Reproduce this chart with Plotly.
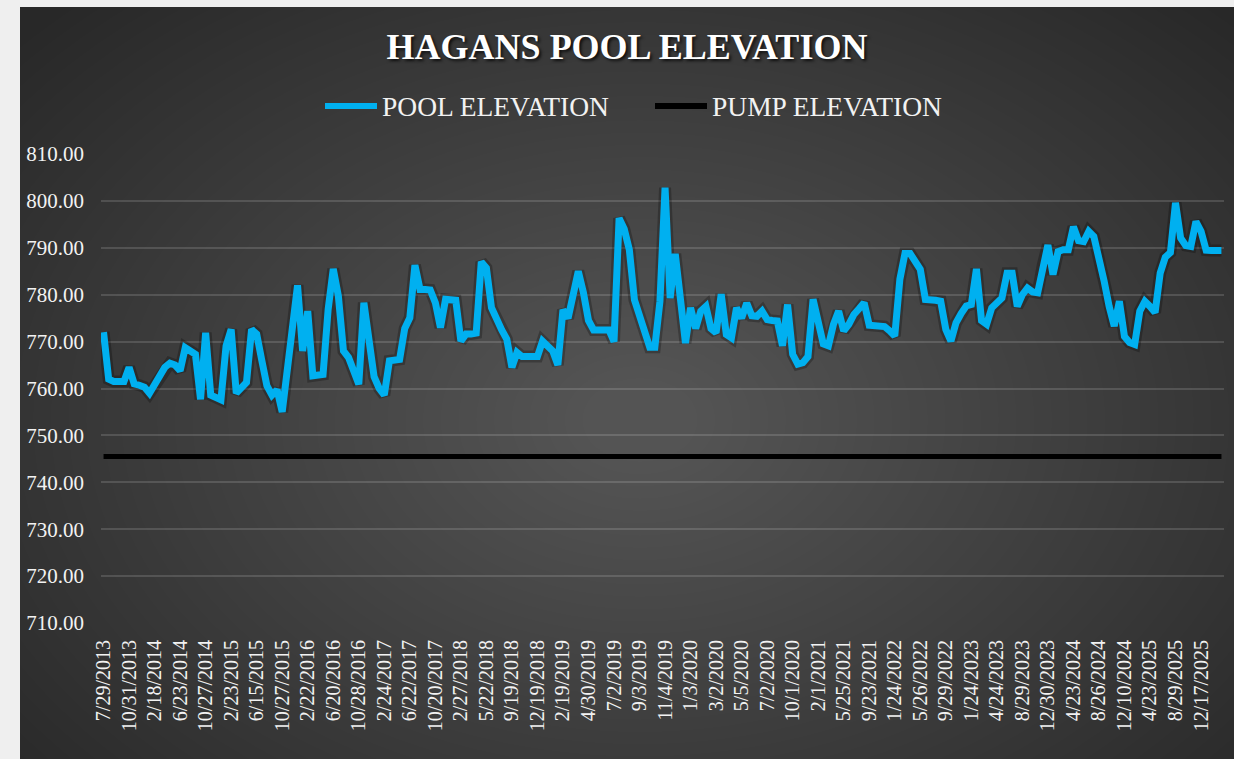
import plotly.graph_objects as go

# Category labels shown on the x axis (every 5th sample)
TICK_LABELS = [
    "7/29/2013", "10/31/2013", "2/18/2014", "6/23/2014", "10/27/2014",
    "2/23/2015", "6/15/2015", "10/27/2015", "2/22/2016", "6/20/2016",
    "10/28/2016", "2/24/2017", "6/22/2017", "10/20/2017", "2/27/2018",
    "5/22/2018", "9/19/2018", "12/19/2018", "2/19/2019", "4/30/2019",
    "7/2/2019", "9/3/2019", "11/4/2019", "1/3/2020", "3/2/2020",
    "5/5/2020", "7/2/2020", "10/1/2020", "2/1/2021", "5/25/2021",
    "9/23/2021", "1/24/2022", "5/26/2022", "9/29/2022", "1/24/2023",
    "4/24/2023", "8/29/2023", "12/30/2023", "4/23/2024", "8/26/2024",
    "12/10/2024", "4/23/2025", "8/29/2025", "12/17/2025",
]
LABEL_EVERY = 5

POOL_ELEVATION = [
    772.0, 762.0, 761.5, 761.5, 761.5, 764.5, 761.0, 760.7, 760.3, 759.0,
    760.9, 762.5, 764.5, 765.4, 765.0, 763.8, 768.7, 768.0, 767.3, 757.7,
    771.9, 758.6, 758.0, 757.6, 769.1, 772.6, 759.0, 760.0, 761.3, 772.6,
    771.6, 766.0, 760.6, 758.6, 759.7, 755.0, 764.0, 774.0, 782.0, 768.0,
    776.5, 762.7, 762.9, 763.0, 776.9, 785.5, 779.7, 768.0, 766.6, 763.5,
    760.9, 778.3, 770.0, 762.5, 760.0, 758.6, 765.9, 765.9, 766.2, 772.8,
    775.1, 786.3, 781.1, 781.1, 781.0, 778.3, 773.0, 779.0, 779.0, 778.8,
    770.1, 771.6, 771.6, 771.8, 787.0, 785.7, 777.2, 774.5, 772.5, 770.5,
    764.5, 767.7, 766.8, 766.8, 766.8, 766.8, 770.1, 769.0, 768.0, 765.0,
    776.8, 775.0, 780.0, 785.0, 780.5, 774.5, 772.5, 772.5, 772.5, 772.5,
    770.0, 796.3, 794.0, 789.6, 778.9, 775.5, 772.0, 768.8, 768.8, 778.6,
    802.8, 779.3, 788.7, 780.0, 769.7, 777.2, 772.8, 776.5, 777.5, 772.8,
    771.9, 780.1, 771.5, 770.8, 777.2, 775.0, 778.2, 775.5, 775.4, 776.5,
    774.7, 774.5, 774.4, 769.1, 777.9, 767.3, 765.2, 765.5, 766.8, 779.0,
    773.3, 769.5, 769.1, 773.7, 776.5, 772.3, 773.7, 775.8, 777.0, 778.3,
    773.5, 773.5, 773.5, 773.2, 772.3, 771.2, 783.3, 788.8, 788.8, 787.0,
    785.4, 779.0, 779.0, 778.8, 778.6, 772.6, 770.1, 774.0, 776.0, 777.6,
    777.9, 785.5, 774.5, 773.7, 777.2, 778.5, 779.3, 784.6, 784.6, 777.5,
    780.0, 781.4, 780.6, 780.4, 786.4, 790.6, 784.3, 789.2, 789.6, 789.6,
    794.5, 791.5, 791.3, 793.5, 792.4, 788.0, 783.0, 777.5, 773.3, 778.6,
    771.1, 769.8, 769.4, 776.5, 778.6, 777.5, 776.2, 784.6, 788.0, 789.0,
    799.6, 792.1, 790.5, 790.3, 795.6, 793.5, 789.5, 789.4, 789.4, 789.4,
]
PUMP_LEVEL = 745.5
PUMP_ELEVATION = [PUMP_LEVEL] * len(POOL_ELEVATION)

POOL_COLOR = "#00B0F0"
FONT = "Liberation Serif, Times New Roman, serif"
TEXT = "#F2F2F2"

W, H = 1234, 759
PLOT_L, PLOT_R, PLOT_T, PLOT_B = 101, 1224, 154, 623  # pixels
M = dict(l=PLOT_L, r=W - PLOT_R, t=PLOT_T, b=H - PLOT_B)
PW = PLOT_R - PLOT_L
PH = PLOT_B - PLOT_T


def fx(px):
    return (px - PLOT_L) / PW


def fy(py):
    return (PLOT_B - py) / PH


x_idx = list(range(len(POOL_ELEVATION)))
tick_idx = x_idx[::LABEL_EVERY][: len(TICK_LABELS)]

fig = go.Figure()
# soft shadow under the pool line
fig.add_trace(go.Scatter(
    x=x_idx, y=POOL_ELEVATION, mode="lines", showlegend=False, hoverinfo="skip",
    line=dict(color="rgba(0,0,0,0.25)", width=12),
))
fig.add_trace(go.Scatter(
    x=x_idx, y=PUMP_ELEVATION, name="PUMP ELEVATION", mode="lines",
    line=dict(color="#000000", width=5),
))
fig.add_trace(go.Scatter(
    x=x_idx, y=POOL_ELEVATION, name="POOL ELEVATION", mode="lines",
    line=dict(color=POOL_COLOR, width=7),
))

# background: light frame, dark panel, soft radial glow
shapes = [
    dict(type="rect", xref="paper", yref="paper", layer="below",
         x0=fx(20), x1=fx(W + 5), y0=fy(H + 5), y1=fy(7),
         fillcolor="#282828", line=dict(width=0)),
]
cx, cy = 640, 420
n = 44
for k in range(n):
    f = 1 - k / n
    rx, ry = 40 + 780 * f, 30 + 540 * f
    shapes.append(dict(
        type="circle", xref="paper", yref="paper", layer="below",
        x0=fx(cx - rx), x1=fx(cx + rx), y0=fy(cy + ry), y1=fy(cy - ry),
        fillcolor="rgba(255,255,255,0.0068)", line=dict(width=0),
    ))
# legend samples
shapes += [
    dict(type="line", xref="paper", yref="paper", x0=fx(325), x1=fx(377),
         y0=fy(106), y1=fy(106), line=dict(color=POOL_COLOR, width=6)),
    dict(type="line", xref="paper", yref="paper", x0=fx(655), x1=fx(707),
         y0=fy(106), y1=fy(106), line=dict(color="#000000", width=6)),
]

annotations = [
    dict(text="POOL ELEVATION", xref="paper", yref="paper", x=fx(380), y=fy(106),
         xanchor="left", yanchor="middle", showarrow=False,
         font=dict(family=FONT, size=27.5, color=TEXT)),
    dict(text="PUMP ELEVATION", xref="paper", yref="paper", x=fx(710), y=fy(106),
         xanchor="left", yanchor="middle", showarrow=False,
         font=dict(family=FONT, size=27.5, color=TEXT)),
]

fig.update_layout(
    width=W, height=H,
    margin=M,
    paper_bgcolor="#EFEFEF",
    plot_bgcolor="rgba(0,0,0,0)",
    showlegend=False,
    hovermode=False,
    shapes=shapes,
    annotations=annotations,
    title=dict(
        text="<b>HAGANS POOL ELEVATION</b>",
        x=627 / W, xanchor="center", xref="container",
        y=1 - 46 / H, yanchor="middle", yref="container",
        font=dict(family=FONT, size=36, color="#FFFFFF",
                  shadow="2px 2px 3px rgba(0,0,0,0.75)"),
    ),
)

fig.update_yaxes(
    range=[710, 810], dtick=10, tickformat=".2f",
    showgrid=True, gridcolor="rgba(255,255,255,0.14)", gridwidth=1.5,
    zeroline=False, showline=False, ticks="",
    ticklabelstandoff=16,
    tickfont=dict(family=FONT, size=21, color=TEXT),
)
fig.update_xaxes(
    range=[-0.5, len(POOL_ELEVATION) - 0.5],
    tickmode="array", tickvals=tick_idx, ticktext=TICK_LABELS,
    tickangle=-90, showgrid=False, zeroline=False, showline=False, ticks="",
    ticklabelstandoff=12,
    tickfont=dict(family=FONT, size=20, color=TEXT),
)

# drop the default page margin so the figure fills the window exactly
fig.write_html(
    "out.html",
    config={"displayModeBar": False},
    post_script="document.body.style.margin='0';document.body.style.overflow='hidden';",
)
